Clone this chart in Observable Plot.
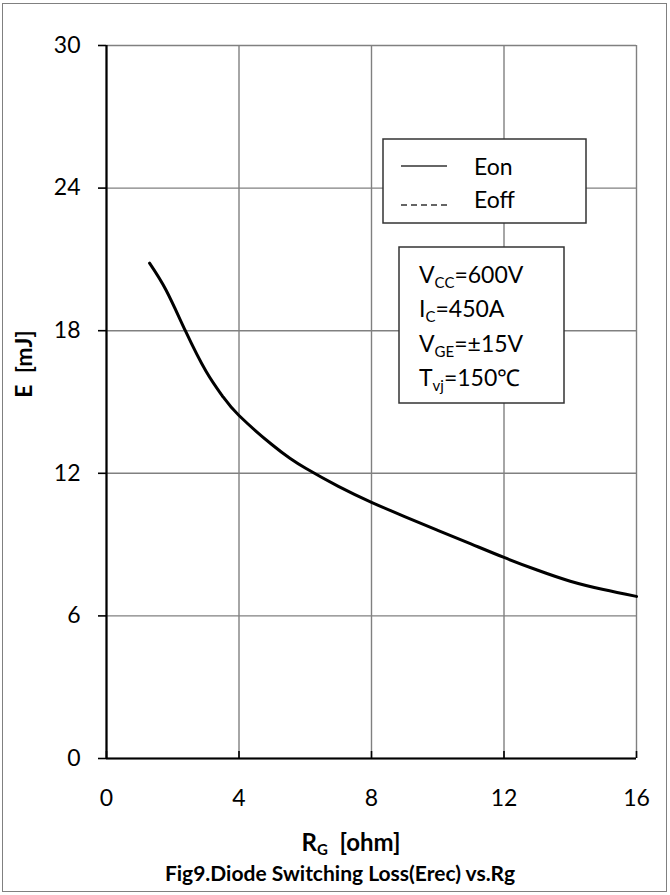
<!DOCTYPE html>
<html>
<head>
<meta charset="utf-8">
<script src="https://cdn.jsdelivr.net/npm/d3@7"></script>
<script src="https://cdn.jsdelivr.net/npm/@observablehq/plot@0.6"></script>
<style>
  html, body { margin: 0; padding: 0; background: #fff; }
  #wrap { position: relative; width: 670px; height: 895px; overflow: hidden; }
  #frame { position: absolute; left: 2px; top: 3px; width: 663px; height: 887px; border: 1.5px solid #808080; pointer-events: none; }
</style>
</head>
<body>
<div id="wrap"><div id="frame"></div></div>
<script>
// ---- data ----
const rg  = [1.3, 1.8, 2.38, 3, 3.5, 4, 5, 5.55, 6, 7, 8, 9, 10, 11, 12, 13, 14, 15, 16];
const eon = [20.84, 19.7, 18.0, 16.3, 15.25, 14.43, 13.2, 12.62, 12.22, 11.45, 10.78, 10.18, 9.6, 9.03, 8.46, 7.93, 7.46, 7.11, 6.82];
const xTicks = [0, 4, 8, 12, 16];
const yTicks = [0, 6, 12, 18, 24, 30];
const legendNames = ["Eon", "Eoff"];
const conditions = [
  ["V", "CC", "=600V"],
  ["I", "C", "=450A"],
  ["V", "GE", "=±15V"],
  ["T", "vj", "=150℃"]
];
const xTitle = ["R", "G", "  [ohm]"];
const yTitle = "E  [mJ]";
const caption = "Fig9.Diode Switching Loss(Erec) vs.Rg";

const data = rg.map((r, i) => ({rg: r, e: eon[i]}));
const font = "Lato, 'Open Sans', sans-serif";
const grid = "#808080";

const chart = Plot.plot({
  width: 670,
  height: 895,
  marginLeft: 106,
  marginRight: 34,
  marginTop: 45,
  marginBottom: 137,
  x: {domain: [0, 16]},
  y: {domain: [0, 30]},
  style: {fontFamily: font, fontSize: "23px", color: "#000", background: "transparent", overflow: "visible"},
  marks: [
    Plot.gridX(xTicks, {stroke: grid, strokeOpacity: 1, strokeWidth: 1.4}),
    Plot.gridY(yTicks, {stroke: grid, strokeOpacity: 1, strokeWidth: 1.4}),
    Plot.axisY(yTicks, {tickSize: 8, tickPadding: 18, strokeWidth: 1.6, label: null, fontSize: 23}),
    Plot.axisX(xTicks, {tickSize: 0, tickPadding: 31, label: null, fontSize: 23}),
    Plot.axisX(xTicks, {tickSize: -7, strokeWidth: 1.6, tickFormat: () => "", label: null}),
    Plot.ruleX([0], {stroke: "#000", strokeWidth: 2.2}),
    Plot.ruleY([0], {stroke: "#000", strokeWidth: 2.2}),
    Plot.line(data, {x: "rg", y: "e", stroke: "#000", strokeWidth: 3, curve: "natural"})
  ]
});
document.getElementById("wrap").appendChild(chart);
chart.style.position = "absolute";
chart.style.left = "0px";
chart.style.top = "0px";

// ---- annotations (legend, condition box, titles) ----
const svg = d3.select(chart);
const ann = svg.append("g").attr("font-family", font).attr("fill", "#000").attr("text-anchor", "start");

// legend box
ann.append("rect").attr("x", 383).attr("y", 139).attr("width", 203).attr("height", 84)
  .attr("fill", "#fff").attr("stroke", "#333").attr("stroke-width", 1.5);
const legY = [166, 205];
const legBase = [175, 208];
legendNames.forEach((name, i) => {
  ann.append("line").attr("x1", 401).attr("x2", 447).attr("y1", legY[i]).attr("y2", legY[i])
    .attr("stroke", "#333").attr("stroke-width", 1.5)
    .attr("stroke-dasharray", i === 1 ? "6,4" : null);
  ann.append("text").attr("x", 474).attr("y", legBase[i]).attr("text-anchor", "start")
    .attr("font-size", 23).text(name);
});

// condition box
ann.append("rect").attr("x", 399).attr("y", 247).attr("width", 165).attr("height", 156)
  .attr("fill", "#fff").attr("stroke", "#333").attr("stroke-width", 1.5);
const condY = [283, 317, 352, 386];
conditions.forEach((c, i) => {
  const t = ann.append("text").attr("x", 419).attr("y", condY[i]).attr("text-anchor", "start").attr("font-size", 23);
  t.append("tspan").text(c[0]);
  t.append("tspan").attr("font-size", 15).attr("dy", 5).text(c[1]);
  t.append("tspan").attr("dy", -5).text(c[2]);
});

// x title
const xt = ann.append("text").attr("x", 351).attr("y", 851).attr("text-anchor", "middle")
  .attr("font-size", 24).attr("font-weight", "bold").style("white-space", "pre");
xt.append("tspan").text(xTitle[0]);
xt.append("tspan").attr("font-size", 15).attr("dy", 4).text(xTitle[1]);
xt.append("tspan").attr("dy", -4).text(xTitle[2]);

// y title
ann.append("text").attr("transform", "translate(32,364) rotate(-90)").attr("text-anchor", "middle")
  .attr("font-size", 23).attr("font-weight", "bold").style("white-space", "pre").text(yTitle);

// caption
ann.append("text").attr("x", 340).attr("y", 881).attr("text-anchor", "middle")
  .attr("font-size", 21).attr("font-weight", "bold").text(caption);
</script>
</body>
</html>
